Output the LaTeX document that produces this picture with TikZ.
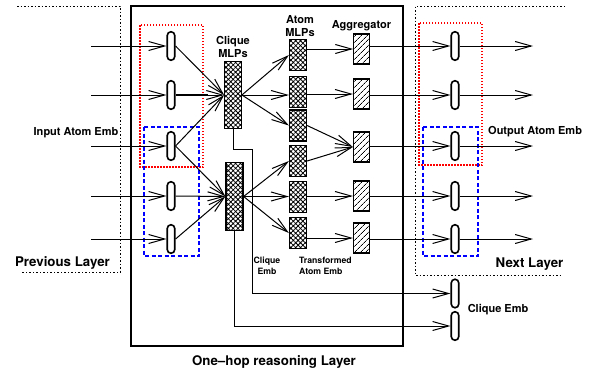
\documentclass[tikz,border=0pt]{standalone}
\usepackage{fontspec}
\setmainfont{TeX Gyre Heros}
\usetikzlibrary{arrows.meta,patterns.meta,positioning,calc}

\tikzset{
  emb/.style={draw, line width=1.6pt, fill=white, rounded corners=3.7pt,
    minimum width=7.5pt, minimum height=28.5pt, inner sep=0pt},
  mlp/.style={draw, line width=1.2pt, minimum width=17pt, inner sep=0pt,
    pattern={Hatch[angle=45,distance=3.4pt,line width=0.8pt]}},
  agg/.style={draw, line width=1.2pt, minimum width=16pt, minimum height=30pt, inner sep=0pt,
    pattern={Lines[angle=45,distance=4pt,line width=0.7pt]}},
  arr/.style={line width=1pt, -{Straight Barb[length=16pt,width=9pt,line width=1pt]}},
  ldot/.style={line width=0.9pt, dash pattern=on 1.5pt off 2pt},
  rdot/.style={red, line width=1.2pt, dash pattern=on 1.5pt off 1.5pt},
  bdash/.style={blue, line width=1.2pt, dash pattern=on 4pt off 2.5pt},
  lbl/.style={font=\fontsize{11}{13.5}\selectfont\bfseries, align=center, inner sep=0pt},
  slbl/.style={font=\fontsize{8.7}{11}\selectfont\bfseries, align=center, inner sep=0pt},
  blbl/.style={font=\fontsize{13.3}{15}\selectfont\bfseries, inner sep=0pt}
}

\begin{document}
\begin{tikzpicture}[x=1pt,y=-1pt]
    \useasboundingbox (0,0) rectangle (594,375);
    % layer frames
    \draw[ldot] (17,6) -- (120,6) -- (120,272) -- (21,272);
    \draw[ldot] (565,6) -- (415,6) -- (415,275) -- (563,275);
    \draw[line width=1.3pt] (131,6) rectangle (403,346);
    % groups of atoms
    \draw[rdot] (140,25) rectangle (203,167);
    \draw[bdash] (144,127) rectangle (199,256);
    \draw[rdot] (419,23) rectangle (482,165);
    \draw[bdash] (423,127) rectangle (478,256);

    % atom embeddings in and out
    \foreach \i/\y in {1/46,2/95,3/146,4/196,5/239} {
        \node[emb] (in\i) at (171,\y) {};
        \node[emb] (out\i) at (455,\y) {};
        \coordinate (src\i) at (91,\y);
        \coordinate (dst\i) at (533,\y);
        \draw[arr] (src\i) -- (in\i.west);
        \draw[arr] (out\i.east) -- (dst\i);
    }

    % clique MLPs
    \node[mlp, minimum height=67pt] (clq1) at (233,95) {};
    \node[mlp, minimum height=68pt] (clq2) at (234.5,196.5) {};
    \node[lbl, above=3pt of clq1] (clqlbl) {Clique\\MLPs};

    % atom MLPs
    \foreach \i/\y in {1/55,2/92,3/125.5,4/161,5/197,6/233}
        \node[mlp, minimum height=31pt] (atom\i) at (298,\y) {};
    \node[lbl, above=2pt of atom1, xshift=2pt] (atomlbl) {Atom\\MLPs};

    % aggregators
    \foreach \i/\y in {1/49,2/94,3/147,4/196,5/238}
        \node[agg] (agg\i) at (361.5,\y) {};
    \node[lbl, above=3pt of agg1] (agglbl) {Aggregator};

    % clique embeddings
    \node[emb] (cemb1) at (455,293.5) {};
    \node[emb] (cemb2) at (455,326) {};
    \coordinate (bend) at (252,149);

    % connectors
    \foreach \i in {1,2,3}
        \draw[arr] (in\i.east) -- (clq1.west);
    \foreach \i in {3,4,5}
        \draw[arr] (in\i.east) -- (clq2.west);
    \draw[line width=2.2pt] (in2.east) -- ++(32,0);
    \draw[arr] (clq1.east) -- (atom1.west);
    \draw[arr] (clq1.east) -- (clq1.east -| atom2.west);
    \draw[arr] (clq1.east) -- (atom3.west);
    \draw[arr] (clq2.east) -- (atom4.west);
    \draw[arr] (clq2.east) -- (clq2.east -| atom5.west);
    \draw[arr] (clq2.east) -- (atom6.west);
    \draw[arr] (atom1.east |- agg1.west) -- (agg1.west);
    \draw[arr] (atom2.east |- agg2.west) -- (agg2.west);
    \draw[arr] (atom3.east) -- (agg3.west);
    \draw[arr] (atom4.east) -- (agg3.west);
    \draw[arr] (atom5.east |- agg4.west) -- (agg4.west);
    \draw[arr] (atom6.east |- agg5.west) -- (agg5.west);
    \foreach \i in {1,...,5}
        \draw[arr] (agg\i.east |- out\i.west) -- (out\i.west);
    \draw[arr] (clq1.south) |- (bend) |- (cemb1.west);
    \draw[arr] (clq2.south) |- (cemb2.west);

    % labels
    \node[slbl] (cqemb) at (267,266) {Clique\\Emb};
    \node[slbl, align=left, anchor=west] (atemb) at (299,266) {Transformed\\Atom Emb};
    \node[lbl, anchor=west] (cemblbl) at ($(cemb1.south east)!0.5!(cemb2.north east)+(8,0)$) {Clique Emb};
    \node[lbl] (inlbl) at (76,133) {Input Atom Emb};
    \node[lbl, anchor=west] (outlbl) at (488,132) {Output Atom Emb};
    \node[blbl] (prevlbl) at (62.5,263) {Previous Layer};
    \node[blbl] (nextlbl) at (529.5,264) {Next Layer};
    \node[blbl] (hoplbl) at (274,362) {One--hop reasoning Layer};
\end{tikzpicture}
\end{document}
